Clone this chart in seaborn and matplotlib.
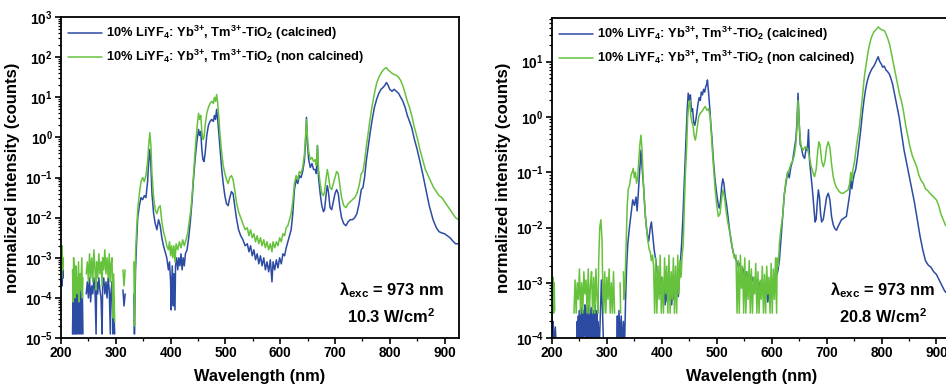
import numpy as np
import pandas as pd
import seaborn as sns
import matplotlib.pyplot as plt
from matplotlib.ticker import LogLocator, FuncFormatter, MultipleLocator, NullFormatter

# (wavelength nm, log10 normalized intensity); None = no data (gap on log axis)
calc_10 = [
    (200, -3.6), (201, -3.1), (202, -3.7), (203, -3.3), (204, -3.5), (205, None),
    (221, -4.9), (222, -3.8), (223, -4.9), (224, -3.6), (226, -4.9), (227, -3.9), (228, -4.9),
    (230, -3.7), (231, -4.9), (233, -3.8), (234, -4.9), (236, -3.6), (237, -4.9), (239, -3.9),
    (240, -4.9), (241, None),
    (246, -3.9), (248, -3.6), (250, -4.0), (252, -3.5), (254, -4.1), (256, -3.7), (258, -3.9),
    (260, -3.5), (262, -3.8), (264, -4.9), (265, -3.6), (267, -3.9), (269, -3.5), (271, -3.8),
    (273, -4.0), (275, -4.9), (276, -3.7), (278, -3.5), (280, -3.9), (282, -3.6), (284, -4.0),
    (286, -3.5), (288, -3.8), (290, -4.9), (291, -3.9), (293, -3.6), (295, -4.9), (296, -4.1),
    (298, -4.9), (299, None),
    (313, -3.8), (315, -4.2), (317, -3.9), (318, None),
    (333, -3.9), (334, -4.9), (336, -3.3), (338, -2.6), (340, -2.0), (343, -1.7), (346, -1.5),
    (349, -1.55), (352, -1.45), (355, -1.5), (358, -1.1), (360, -0.6), (362, -0.3), (364, -0.7),
    (366, -1.4), (369, -1.9), (372, -2.15), (375, -2.3), (378, -2.05), (381, -2.2), (384, -2.5),
    (387, -2.7), (390, -2.85), (393, -3.0), (396, -3.3), (398, -3.1), (400, -3.6), (401, -4.3),
    (403, -3.2), (405, -4.2), (406, -3.4), (408, -4.3), (409, -3.2), (411, -3.0), (413, -3.3),
    (415, -3.0), (417, -3.2), (419, -2.9), (421, -3.3), (423, -3.0), (425, -3.2), (427, -2.9),
    (430, -2.8), (433, -2.5), (436, -2.1), (439, -1.6), (442, -1.0), (445, -0.5), (448, -0.1),
    (451, 0.2), (453, 0.05), (455, 0.15), (457, -0.3), (459, -0.55), (461, -0.6), (463, -0.4),
    (466, 0.05), (469, 0.3), (472, 0.4), (475, 0.45), (478, 0.4), (480, 0.55), (482, 0.45),
    (484, 0.7), (486, 0.45), (488, 0.1), (490, -0.25), (493, -0.75), (496, -1.15), (499, -1.45),
    (502, -1.65), (505, -1.7), (508, -1.5), (511, -1.35), (514, -1.4), (517, -1.7), (520, -2.0),
    (524, -2.3), (528, -2.45), (532, -2.55), (536, -2.7), (540, -2.65), (543, -2.85), (546, -2.7),
    (549, -2.95), (552, -2.8), (555, -3.05), (558, -2.9), (561, -3.15), (564, -2.95), (567, -3.2),
    (570, -3.0), (573, -3.3), (576, -3.1), (579, -3.35), (582, -3.05), (585, -3.6), (587, -3.1),
    (590, -3.3), (593, -3.05), (596, -3.25), (599, -3.0), (602, -3.15), (605, -2.9), (608, -2.95),
    (611, -2.75), (614, -2.6), (617, -2.45), (620, -2.3), (623, -1.9), (626, -1.3), (629, -1.05),
    (632, -1.15), (635, -0.95), (638, -1.0), (641, -0.85), (644, -0.6), (646, -0.2), (648, 0.5),
    (650, -0.2), (652, -0.55), (655, -0.75), (658, -0.65), (661, -0.8), (664, -0.8), (666, -0.9),
    (668, -0.2), (670, -1.0), (673, -1.4), (676, -1.7), (679, -1.85), (681, -1.8), (684, -1.4),
    (686, -1.2), (688, -1.35), (691, -1.75), (694, -1.8), (697, -1.6), (700, -1.4), (703, -1.3),
    (706, -1.4), (709, -1.75), (712, -2.0), (716, -2.15), (720, -2.2), (724, -2.1), (728, -2.05),
    (732, -2.05), (736, -2.0), (740, -1.9), (744, -1.65), (748, -1.3), (751, -1.25), (754, -1.0),
    (757, -0.6), (760, -0.3), (764, 0.1), (768, 0.45), (772, 0.75), (776, 0.95), (780, 1.1),
    (784, 1.2), (788, 1.25), (791, 1.3), (794, 1.37), (797, 1.3), (800, 1.2), (804, 1.15),
    (808, 1.2), (812, 1.15), (816, 1.1), (820, 1.0), (824, 0.9), (828, 0.75), (832, 0.55),
    (836, 0.4), (840, 0.25), (845, -0.05), (850, -0.3), (855, -0.6), (860, -0.9), (866, -1.3),
    (872, -1.7), (879, -2.05), (885, -2.25), (890, -2.35), (895, -2.38), (900, -2.4),
    (905, -2.45), (910, -2.5), (915, -2.58), (920, -2.65), (926, -2.65),
]

noncalc_10 = [
    (200, -2.9), (201, -3.5), (202, -2.7), (203, -3.3), (204, -3.0), (205, None),
    (221, -3.3), (222, -4.1), (223, -3.0), (225, -3.6), (226, -4.0), (227, -3.2), (229, -3.7),
    (230, -3.9), (232, -3.1), (233, -4.1), (235, -3.4), (236, -3.8), (238, -3.0), (239, -4.0),
    (240, -3.5), (241, None),
    (246, -3.4), (248, -3.1), (250, -3.6), (252, -2.9), (254, -3.5), (256, -3.0), (258, -3.6),
    (260, -2.8), (262, -3.3), (264, -3.8), (265, -3.1), (267, -3.5), (269, -2.9), (271, -3.4),
    (273, -3.1), (275, -3.7), (276, -3.0), (278, -3.3), (280, -2.8), (282, -3.4), (284, -3.0),
    (286, -3.5), (288, -2.9), (290, -3.6), (291, -3.2), (293, -3.0), (295, -4.5), (296, -3.4),
    (298, -4.6), (299, None),
    (313, -3.3), (315, -3.7), (317, -3.3), (318, None),
    (333, -3.1), (334, -4.7), (336, -2.9), (338, -2.3), (340, -1.8), (343, -1.4), (346, -1.1),
    (349, -1.0), (352, -1.1), (355, -0.95), (358, -0.6), (360, -0.2), (362, 0.12), (364, -0.2),
    (366, -0.9), (369, -1.5), (372, -1.8), (375, -1.9), (378, -1.75), (381, -1.7), (384, -2.1),
    (387, -2.35), (390, -2.5), (393, -2.7), (396, -2.8), (398, -2.6), (400, -2.95), (402, -2.7),
    (404, -3.0), (406, -2.7), (408, -3.1), (410, -2.65), (413, -2.8), (416, -2.6), (419, -2.75),
    (422, -2.55), (425, -2.7), (428, -2.55), (431, -2.4), (434, -2.1), (437, -1.8), (440, -1.3),
    (443, -0.7), (446, -0.1), (449, 0.35), (451, 0.6), (453, 0.45), (455, 0.55), (457, 0.15),
    (459, -0.05), (461, 0.0), (463, 0.3), (466, 0.6), (469, 0.75), (472, 0.85), (475, 0.9),
    (478, 0.85), (480, 1.0), (482, 0.9), (484, 1.07), (486, 0.85), (488, 0.5), (490, 0.1),
    (493, -0.35), (496, -0.7), (499, -0.9), (502, -1.05), (505, -1.15), (508, -1.0), (511, -0.95),
    (514, -1.05), (517, -1.3), (520, -1.6), (524, -1.85), (528, -2.0), (532, -2.15), (536, -2.3),
    (540, -2.25), (543, -2.45), (546, -2.3), (549, -2.5), (552, -2.4), (555, -2.6), (558, -2.45),
    (561, -2.65), (564, -2.5), (567, -2.7), (570, -2.55), (573, -2.75), (576, -2.6), (579, -2.8),
    (582, -2.65), (585, -2.85), (587, -2.6), (590, -2.75), (593, -2.6), (596, -2.7), (599, -2.5),
    (602, -2.6), (605, -2.4), (608, -2.45), (611, -2.25), (614, -2.2), (617, -2.05), (620, -1.9),
    (623, -1.6), (626, -1.15), (629, -0.95), (632, -1.05), (635, -0.85), (638, -0.9), (641, -0.75),
    (644, -0.45), (646, -0.05), (648, 0.45), (650, -0.05), (652, -0.35), (655, -0.55), (658, -0.5),
    (661, -0.6), (664, -0.55), (666, -0.7), (668, -0.2), (670, -0.8), (673, -1.15), (676, -1.4),
    (679, -1.45), (681, -1.35), (684, -1.0), (686, -0.8), (688, -0.95), (691, -1.25), (694, -1.3),
    (697, -1.15), (700, -1.0), (703, -0.85), (706, -0.9), (709, -1.2), (712, -1.5), (716, -1.7),
    (720, -1.75), (724, -1.65), (728, -1.6), (732, -1.55), (736, -1.5), (740, -1.4), (744, -1.2),
    (748, -0.9), (751, -0.85), (754, -0.6), (757, -0.25), (760, 0.05), (764, 0.45), (768, 0.8),
    (772, 1.1), (776, 1.35), (780, 1.5), (784, 1.6), (788, 1.68), (791, 1.72), (794, 1.74),
    (797, 1.68), (800, 1.65), (804, 1.6), (808, 1.57), (812, 1.55), (816, 1.5), (820, 1.42),
    (824, 1.28), (828, 1.1), (832, 0.9), (836, 0.75), (840, 0.55), (845, 0.25), (850, 0.0),
    (855, -0.3), (860, -0.55), (865, -0.8), (870, -0.95), (875, -1.1), (880, -1.25), (885, -1.35),
    (890, -1.45), (895, -1.5), (900, -1.6), (905, -1.7), (910, -1.8), (915, -1.9), (920, -2.0),
    (926, -2.05),
]

calc_20 = [
    (200, -3.6), (201, -3.9), (202, -3.7), (204, -4.2), (206, -3.8), (208, -4.2), (209, None),
    (245, -4.2), (246, -3.7), (247, -4.1), (248, -3.6), (249, -4.2), (250, -3.5), (251, -4.1),
    (252, -3.6), (253, -4.2), (254, -3.45), (255, -4.0), (256, -3.55), (257, -4.2), (258, -3.5),
    (259, -3.95), (260, -3.4), (261, -4.2), (262, -3.5), (263, -4.1), (264, -3.45), (265, -4.0),
    (266, -3.6), (267, -4.2), (268, -3.4), (269, -3.9), (270, -3.5), (271, -4.2), (272, -3.45),
    (273, -4.05), (274, -3.55), (275, -4.2), (276, -3.5), (277, -4.1), (278, -3.4), (279, -4.2),
    (280, -3.6), (281, -4.0), (282, -3.5), (283, -4.2), (284, -3.7), (286, -4.2), (288, -3.6),
    (290, -2.95), (292, -3.5), (294, -4.2), (295, None),
    (318, -4.1), (319, -3.6), (320, -4.2), (322, -3.5), (324, -4.1), (326, -3.6), (328, -4.2),
    (330, -3.7), (332, -4.2), (334, -3.3), (336, -2.7), (338, -2.3), (341, -2.0), (344, -1.75),
    (347, -1.5), (350, -1.6), (353, -1.45), (355, -1.7), (357, -1.4), (360, -0.9), (362, -0.6),
    (364, -0.9), (367, -1.3), (370, -1.8), (373, -2.1), (376, -2.25), (379, -2.0), (381, -1.9),
    (383, -2.1), (386, -2.4), (389, -2.6), (392, -2.85), (395, -3.0), (398, -3.2), (400, -2.9),
    (402, -3.3), (404, -3.0), (406, -3.4), (408, -3.1), (410, -3.35), (412, -2.95), (414, -3.3),
    (416, -3.0), (418, -3.4), (420, -3.1), (422, -3.3), (424, -2.95), (426, -3.2), (428, -3.0),
    (430, -3.25), (432, -2.9), (434, -2.6), (436, -2.3), (438, -1.9), (440, -1.4), (442, -0.9),
    (444, -0.4), (446, 0.1), (448, 0.43), (450, 0.3), (452, 0.4), (454, 0.1), (456, 0.15),
    (458, -0.1), (460, -0.15), (462, -0.05), (464, 0.1), (466, 0.25), (468, 0.35), (470, 0.3),
    (472, 0.45), (474, 0.4), (476, 0.5), (478, 0.45), (480, 0.55), (482, 0.6), (483, 0.67),
    (485, 0.45), (487, 0.2), (489, -0.1), (491, -0.35), (494, -0.8), (497, -1.15), (500, -1.4),
    (503, -1.6), (505, -1.65), (507, -1.5), (509, -1.25), (511, -1.12), (513, -1.2), (515, -1.4),
    (518, -1.6), (521, -1.85), (524, -2.1), (527, -2.3), (530, -2.45), (533, -2.55), (536, -2.6),
    (539, -2.7), (542, -2.65), (545, -2.8), (548, -2.75), (551, -2.9), (554, -2.8), (557, -2.95),
    (560, -2.85), (563, -3.0), (566, -2.9), (569, -3.1), (572, -2.95), (575, -3.15), (578, -3.0),
    (581, -3.2), (584, -3.05), (587, -3.3), (590, -3.1), (593, -3.35), (596, -3.1), (599, -3.2),
    (602, -3.0), (605, -3.1), (608, -2.9), (611, -2.8), (614, -2.6), (617, -2.2), (620, -1.8),
    (623, -1.4), (626, -1.2), (629, -1.0), (632, -1.1), (635, -0.9), (638, -0.8), (641, -0.6),
    (644, -0.4), (646, -0.1), (648, 0.43), (650, -0.1), (652, -0.5), (654, -0.55), (657, -0.7),
    (660, -0.75), (663, -0.55), (665, -0.6), (667, -0.23), (669, -0.8), (671, -1.0), (674, -1.3),
    (677, -1.65), (679, -1.9), (681, -1.85), (683, -1.55), (685, -1.32), (687, -1.45),
    (689, -1.75), (691, -1.9), (694, -1.85), (697, -1.65), (700, -1.45), (703, -1.38),
    (706, -1.5), (709, -1.8), (712, -1.95), (715, -2.02), (718, -2.05), (721, -1.98),
    (724, -1.92), (727, -1.86), (730, -1.84), (733, -1.82), (736, -1.8), (739, -1.6),
    (742, -1.4), (744, -1.1), (746, -1.3), (748, -1.15), (750, -1.05), (753, -0.95),
    (756, -0.75), (759, -0.5), (762, -0.25), (765, 0.05), (768, 0.3), (771, 0.5), (774, 0.65),
    (777, 0.75), (780, 0.82), (783, 0.88), (786, 0.92), (789, 0.98), (792, 1.05), (794, 1.09),
    (796, 1.02), (798, 0.98), (800, 0.95), (802, 0.9), (805, 0.92), (808, 0.85), (811, 0.82),
    (814, 0.78), (817, 0.7), (820, 0.6), (823, 0.45), (826, 0.3), (829, 0.15), (832, 0.0),
    (835, -0.2), (838, -0.4), (841, -0.6), (845, -0.8), (850, -1.05), (855, -1.3), (860, -1.55),
    (865, -1.85), (870, -2.15), (875, -2.4), (880, -2.6), (885, -2.68), (890, -2.72),
    (895, -2.8), (900, -2.85), (905, -2.95), (910, -3.05), (915, -3.15), (920, -3.2), (926, -3.25),
]

noncalc_20 = [
    (200, -2.6), (201, -3.5), (202, -2.9), (203, -3.55), (204, -3.0), (205, -3.5), (206, None),
    (240, -3.55), (242, -2.95), (244, -3.55), (246, -3.0), (248, -3.3), (250, -2.75), (252, -3.55),
    (254, -3.0), (256, -3.55), (258, -2.8), (260, -3.2), (262, -2.95), (264, -3.55), (266, -2.75),
    (268, -3.55), (270, -3.05), (272, -2.8), (274, -3.55), (276, -2.9), (278, -3.55), (280, -2.75),
    (282, -3.3), (284, -3.55), (285, -2.6), (286, -2.3), (287, -2.0), (289, -1.86), (291, -2.2),
    (292, -2.8), (294, -3.55), (296, -2.8), (298, -3.55), (300, -2.9), (302, -3.3), (304, -2.75),
    (306, -3.55), (308, -3.0), (310, -3.55), (312, -2.8), (314, -3.55), (315, None),
    (324, -3.0), (325, -3.55), (326, None),
    (330, -2.8), (331, -3.3), (333, -3.0), (335, -2.3), (337, -1.6), (339, -1.3), (341, -1.25),
    (344, -1.05), (346, -1.0), (348, -0.93), (350, -1.1), (352, -1.0), (354, -1.2), (356, -1.1),
    (358, -0.8), (360, -0.5), (362, -0.33), (364, -0.6), (366, -1.1), (368, -1.5), (371, -1.9),
    (374, -2.2), (377, -2.4), (379, -2.45), (381, -2.6), (383, -2.5), (385, -2.7), (387, -3.55),
    (389, -2.55), (391, -3.55), (393, -2.7), (395, -3.3), (397, -2.5), (399, -3.55), (401, -2.9),
    (403, -3.55), (405, -2.55), (407, -3.2), (409, -2.7), (411, -3.55), (413, -2.5), (415, -3.55),
    (417, -2.8), (419, -3.3), (421, -2.55), (423, -3.55), (425, -2.7), (427, -3.55), (429, -2.5),
    (431, -3.2), (433, -2.6), (435, -2.9), (437, -2.5),
    (439, -2.3), (441, -1.6), (443, -1.0), (445, -0.6), (447, 0.0), (449, 0.2), (451, 0.3),
    (453, 0.0), (455, -0.1), (457, -0.17), (459, -0.35), (461, -0.42), (463, -0.3), (465, -0.15),
    (467, 0.0), (470, 0.07), (473, 0.1), (476, 0.15), (479, 0.19), (482, 0.12), (485, 0.15),
    (488, 0.0), (490, -0.3), (492, -0.6), (494, -0.9), (497, -1.3), (500, -1.6), (503, -1.8),
    (506, -1.75), (508, -1.55), (511, -1.32), (514, -1.45), (517, -1.7), (520, -1.9), (523, -2.05),
    (526, -2.2), (529, -2.4), (532, -2.55), (535, -2.5), (537, -3.55), (539, -2.6), (541, -3.55),
    (543, -2.5), (545, -3.1), (547, -2.7), (549, -3.55), (551, -2.55), (553, -3.55), (555, -2.8),
    (557, -3.3), (559, -2.6), (561, -3.55), (563, -2.75), (565, -3.55), (567, -2.9), (569, -3.2),
    (571, -2.65), (573, -3.55), (575, -2.8), (577, -3.55), (579, -2.95), (581, -3.3), (583, -2.7),
    (585, -3.55), (587, -2.85), (589, -3.55), (591, -2.7), (593, -3.2), (595, -2.9), (597, -3.55),
    (599, -2.65), (601, -3.55), (603, -2.75), (605, -3.3), (607, -2.55), (609, -3.55),
    (610, -2.55), (612, -2.7), (614, -2.3), (617, -2.0), (620, -1.8), (623, -1.4), (626, -1.15),
    (629, -1.02), (632, -0.95), (635, -0.85), (638, -0.8), (641, -0.7), (644, -0.5), (646, -0.2),
    (648, 0.3), (650, -0.1), (652, -0.4), (654, -0.54), (657, -0.6), (660, -0.55), (663, -0.54),
    (666, -0.6), (669, -0.75), (672, -0.9), (675, -1.0), (678, -1.08), (681, -0.95), (684, -0.6),
    (686, -0.45), (688, -0.5), (691, -0.8), (694, -0.9), (697, -0.8), (700, -0.55), (703, -0.45),
    (706, -0.55), (709, -0.85), (712, -1.08), (715, -1.2), (718, -1.28), (721, -1.32),
    (724, -1.36), (727, -1.38), (730, -1.38), (733, -1.36), (736, -1.34), (739, -1.32),
    (742, -1.2), (744, -1.0), (746, -1.15), (748, -0.95), (751, -0.8), (754, -0.55), (757, -0.35),
    (760, -0.15), (763, 0.15), (766, 0.45), (769, 0.75), (772, 0.95), (775, 1.15), (778, 1.3),
    (781, 1.42), (784, 1.5), (787, 1.55), (790, 1.58), (792, 1.6), (794, 1.63), (797, 1.6),
    (800, 1.58), (803, 1.57), (806, 1.55), (809, 1.48), (812, 1.4), (815, 1.3), (818, 1.15),
    (821, 1.0), (824, 0.85), (827, 0.7), (830, 0.55), (833, 0.4), (836, 0.3), (840, 0.1),
    (844, -0.15), (848, -0.35), (852, -0.55), (856, -0.7), (860, -0.8), (864, -0.9), (868, -1.05),
    (872, -1.15), (876, -1.2), (880, -1.3), (884, -1.33), (888, -1.38), (892, -1.42), (896, -1.46),
    (900, -1.5), (904, -1.6), (908, -1.75), (912, -1.85), (916, -1.95), (920, -2.0), (926, -2.1),
]

label_calc = r"10% LiYF$_\mathbf{4}$: Yb$^{\mathbf{3{+}}}$, Tm$^{\mathbf{3{+}}}$-TiO$_\mathbf{2}$ (calcined)"
label_noncalc = r"10% LiYF$_\mathbf{4}$: Yb$^{\mathbf{3{+}}}$, Tm$^{\mathbf{3{+}}}$-TiO$_\mathbf{2}$ (non calcined)"
power_labels = ["10.3 W/cm$^\\mathbf{2}$", "20.8 W/cm$^\\mathbf{2}$"]
ylims = [(1e-5, 1e3), (1e-4, 62)]

palette = {label_calc: "#2c4ba3", label_noncalc: "#66c23c"}


def to_frame(points, label):
    df = pd.DataFrame(points, columns=["wl", "lg"]).astype(float)
    df["seg"] = df["lg"].isna().cumsum()
    df = df.dropna()
    df["I"] = 10 ** df["lg"]
    df["sample"] = label
    df["unit"] = label + df["seg"].astype(str)
    return df


panels = [
    pd.concat([to_frame(calc_10, label_calc), to_frame(noncalc_10, label_noncalc)]),
    pd.concat([to_frame(calc_20, label_calc), to_frame(noncalc_20, label_noncalc)]),
]

sns.set_theme(style="ticks")
plt.rcParams.update({
    "font.family": ["Liberation Sans", "DejaVu Sans"],
    "font.weight": "bold",
    "axes.labelweight": "bold",
    "text.color": "black",
    "axes.labelcolor": "black",
    "mathtext.fontset": "custom",
    "mathtext.rm": "Liberation Sans:bold",
    "mathtext.bf": "Liberation Sans:bold",
    "mathtext.it": "Liberation Sans:bold",
    "axes.edgecolor": "black",
    "axes.linewidth": 1.3,
    "xtick.color": "black",
    "ytick.color": "black",
})

fig = plt.figure(figsize=(9.46, 3.89), dpi=100)
axes = [fig.add_axes([0.0645, 0.131, 0.4205, 0.825]),
        fig.add_axes([0.5835, 0.131, 0.4215, 0.823])]

for ax, df, ylim, power in zip(axes, panels, ylims, power_labels):
    sns.lineplot(data=df, x="wl", y="I", hue="sample", units="unit", estimator=None,
                 sort=False, palette=palette, linewidth=1.1, ax=ax,
                 hue_order=[label_calc, label_noncalc])
    ax.set_yscale("log")
    ax.set_xlim(200, 926)
    ax.set_ylim(*ylim)
    ax.xaxis.set_major_locator(MultipleLocator(100))
    ax.xaxis.set_minor_locator(MultipleLocator(50))
    ax.yaxis.set_major_locator(LogLocator(base=10, numticks=100))
    ax.yaxis.set_minor_locator(LogLocator(base=10, subs=np.arange(2, 10), numticks=100))
    ax.yaxis.set_major_formatter(FuncFormatter(lambda v, p: r"$\mathbf{10^{%d}}$" % round(np.log10(v))))
    ax.yaxis.set_minor_formatter(NullFormatter())
    ax.tick_params(which="major", direction="out", length=4, width=1.2, labelsize=9.8, pad=2)
    ax.tick_params(which="minor", direction="out", length=2.2, width=0.9)
    for lab in ax.get_xticklabels() + ax.get_yticklabels():
        lab.set_fontweight("bold")
    ax.set_xlabel("Wavelength (nm)", fontsize=11.8, fontweight="bold", labelpad=6)
    ax.set_ylabel("normalized intensity (counts)", fontsize=12, fontweight="bold", labelpad=3)
    sns.move_legend(ax, "upper left", title=None, frameon=False, fontsize=9.3,
                    handlelength=2.6, handletextpad=0.3, labelspacing=0.45,
                    borderaxespad=0.25, borderpad=0.3, bbox_to_anchor=(0.0, 1.0))
    ax.text(0.83, 0.15, "λ$_\\mathbf{exc}$ = 973 nm", transform=ax.transAxes,
            ha="center", va="center", fontsize=11.8, fontweight="bold")
    ax.text(0.83, 0.066, power, transform=ax.transAxes,
            ha="center", va="center", fontsize=11.8, fontweight="bold")

fig.savefig("out.png", dpi=100)
